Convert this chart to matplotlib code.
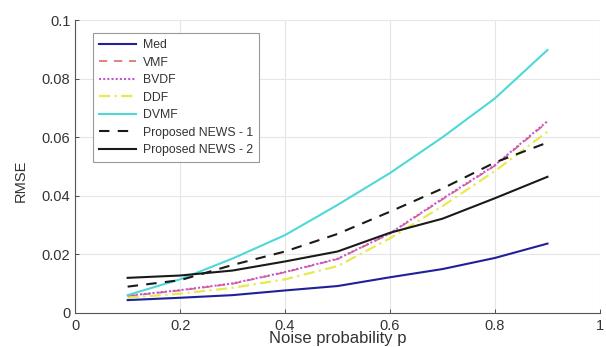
import matplotlib
matplotlib.use("Agg")
import matplotlib.pyplot as plt

p = [0.1, 0.2, 0.3, 0.4, 0.5, 0.6, 0.7, 0.8, 0.9]
med   = [0.0044, 0.0052, 0.0061, 0.0077, 0.0092, 0.0122, 0.0150, 0.0188, 0.0237]
vmf   = [0.0058, 0.0077, 0.0100, 0.0139, 0.0184, 0.0271, 0.0388, 0.0503, 0.0652]
bvdf  = [0.0059, 0.0078, 0.0101, 0.0140, 0.0185, 0.0272, 0.0390, 0.0505, 0.0655]
ddf   = [0.0052, 0.0066, 0.0086, 0.0115, 0.0160, 0.0255, 0.0365, 0.0485, 0.0619]
dvmf  = [0.0061, 0.0115, 0.0186, 0.0266, 0.0369, 0.0478, 0.0600, 0.0733, 0.0898]
news1 = [0.0090, 0.0112, 0.0164, 0.0210, 0.0270, 0.0346, 0.0425, 0.0514, 0.0582]
news2 = [0.0120, 0.0128, 0.0145, 0.0176, 0.0210, 0.0274, 0.0322, 0.0392, 0.0465]

xticks = [0, 0.2, 0.4, 0.6, 0.8, 1]
xticklabels = ["0", "0.2", "0.4", "0.6", "0.8", "1"]
yticks = [0, 0.02, 0.04, 0.06, 0.08, 0.1]
yticklabels = ["0", "0.02", "0.04", "0.06", "0.08", "0.1"]

plt.rcParams['font.family'] = ['Liberation Sans', 'DejaVu Sans']

fig = plt.figure(figsize=(6.06, 3.47), dpi=100)
ax = fig.add_axes([0.124, 0.098, 0.866, 0.844])

lw = 1.5
ax.plot(p, med, color='#20209a', lw=lw, label='Med')
ax.plot(p, vmf, color='#e06a6a', lw=1.2, ls=(0, (5, 4)), label='VMF')
ax.plot(p, bvdf, color='#c455d4', lw=1.5, ls=(0, (1, 1)), label='BVDF')
ax.plot(p, ddf, color='#e8e850', lw=1.6, ls=(0, (5, 2, 1, 2)), label='DDF')
ax.plot(p, dvmf, color='#4fd8d8', lw=lw, label='DVMF')
ax.plot(p, news1, color='#1a1a1a', lw=lw, ls=(0, (5, 4)), label='Proposed NEWS - 1')
ax.plot(p, news2, color='#1a1a1a', lw=lw, label='Proposed NEWS - 2')

ax.set_xlim(0, 1)
ax.set_ylim(0, 0.1)
ax.set_xticks(xticks)
ax.set_xticklabels(xticklabels)
ax.set_yticks(yticks)
ax.set_yticklabels(yticklabels)
ax.grid(True, color='#e6e6e6', lw=0.8)
ax.set_axisbelow(True)
for s in ['top', 'right']:
    ax.spines[s].set_visible(False)
for s in ['left', 'bottom']:
    ax.spines[s].set_color('#555555')
    ax.spines[s].set_linewidth(0.8)
ax.tick_params(direction='in', length=3, colors='#333333', labelsize=10.5, width=0.6)
ax.tick_params(axis='x', pad=4)

ax.set_xlabel('Noise probability p', fontsize=12, color='#333333', labelpad=-1)
ax.set_ylabel('RMSE', fontsize=10.5, color='#333333')
ax.yaxis.set_label_coords(-0.09, 0.45)

leg = ax.legend(loc='upper left', bbox_to_anchor=(0.034, 0.956), borderaxespad=0,
                fontsize=8.8, frameon=True, fancybox=False, framealpha=1,
                edgecolor='#999999', handlelength=3.0, handletextpad=0.6,
                labelspacing=0.45, borderpad=0.5)
leg.get_frame().set_linewidth(0.8)
for t in leg.get_texts():
    t.set_color('#333333')

fig.savefig('out.png', dpi=100)
